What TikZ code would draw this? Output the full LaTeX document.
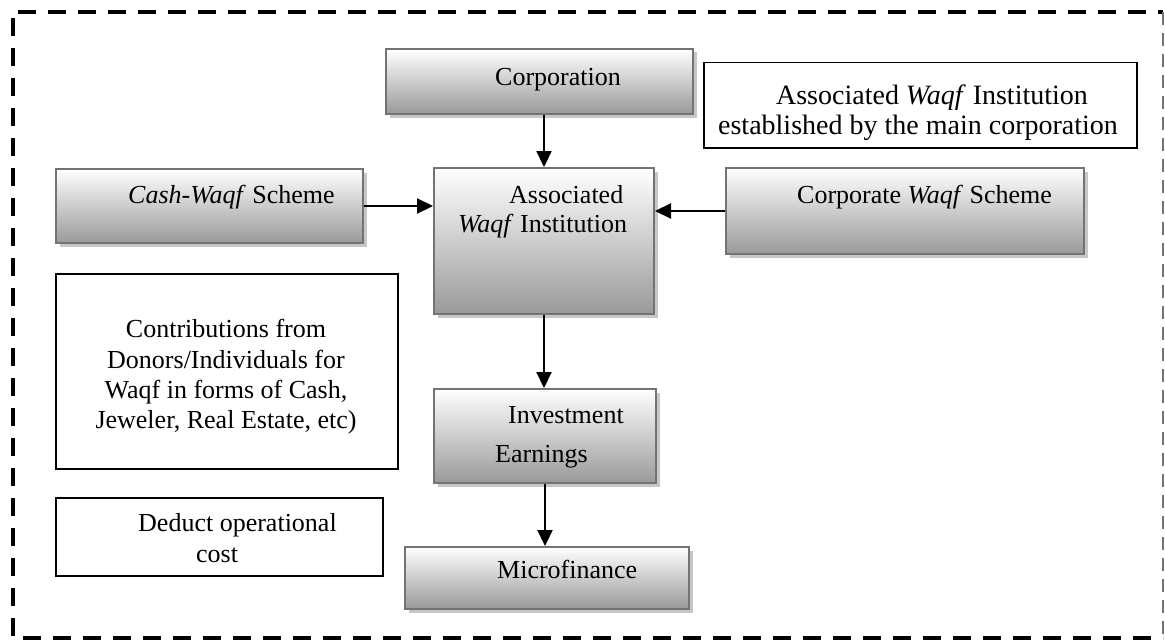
\documentclass[tikz,border=0pt]{standalone}
\usepackage{fontspec}
\setmainfont{Liberation Serif}
\usetikzlibrary{arrows.meta,shadows}
\begin{document}
\begin{tikzpicture}[x=1pt,y=-1pt,
 txt/.style={font=\fontsize{26}{30}\selectfont, inner sep=0pt},
 bigtxt/.style={font=\fontsize{28}{32}\selectfont, inner sep=0pt, anchor=base},
 lt/.style={txt, anchor=base west},
 ct/.style={txt, anchor=base},
 gbox/.style={draw=black!55, line width=2pt, top color=white, bottom color=black!40, inner sep=0pt, anchor=north west,
   drop shadow={shadow xshift=3.5pt, shadow yshift=-3.5pt, fill=black!22, opacity=1}},
 wbox/.style={draw=black, line width=1.5pt, fill=white, inner sep=0pt, anchor=north west},
 conn/.style={line width=2.2pt, -{Triangle[length=16pt,width=15pt]}},
 bdash/.style={line width=4pt, dash pattern=on 18pt off 12pt},
 rdash/.style={line width=1.5pt, black!55, dash pattern=on 13pt off 8pt},
]
\useasboundingbox (0,0) rectangle (1165,642);
% border
\coordinate (tl) at (13,12);
\coordinate (tr) at (1163,12);
\coordinate (bl) at (13,638);
\coordinate (br) at (1163,638);
\draw[bdash] ([xshift=5pt]tl) -- (tr);
\draw[bdash] ([yshift=-6pt]tl) -- (bl) -- (br);
\draw[rdash] (tr) -- (br);

% boxes
\node[gbox, minimum width=307pt, minimum height=65pt] (corp) at (385,48) {};
\node[gbox, minimum width=220pt, minimum height=146pt] (assoc) at (433,167) {};
\node[gbox, minimum width=307pt, minimum height=74pt] (cash) at (55,168) {};
\node[gbox, minimum width=358pt, minimum height=86pt] (corpw) at (725,167) {};
\node[gbox, minimum width=222pt, minimum height=94pt] (inv) at (433,388) {};
\node[gbox, minimum width=284pt, minimum height=62pt] (micro) at (404,546) {};
\node[wbox, minimum width=433pt, minimum height=85pt] (tr box) at (703,62) {};
\node[wbox, minimum width=342pt, minimum height=195pt] (contrib) at (55,273) {};
\node[wbox, minimum width=327pt, minimum height=78pt] (deduct) at (55,497) {};

% texts
\node[lt] (tCorp) at (495,85) {Corporation};
\node[lt] (tAssoc1) at (509,203) {Associated};
\node[lt] (tAssoc2) at (458,232) {\textit{Waqf} Institution};
\node[bigtxt] (tTR1) at (932,104) {Associated \textit{Waqf} Institution};
\node[bigtxt] (tTR2) at (918,134) {established by the main corporation};
\node[lt] (tCash) at (128,203) {\textit{Cash-Waqf} Scheme};
\node[lt] (tCorpw) at (797,203) {Corporate \textit{Waqf} Scheme};
\node[ct] (tC1) at (226,337) {Contributions from};
\node[ct] (tC2) at (226,368) {Donors/Individuals for};
\node[ct] (tC3) at (226,398) {Waqf in forms of Cash,};
\node[ct] (tC4) at (226,428) {Jeweler, Real Estate, etc)};
\node[lt] (tInv1) at (508,423) {Investment};
\node[lt] (tInv2) at (495,462) {Earnings};
\node[lt] (tDed1) at (138,531) {Deduct operational};
\node[lt] (tDed2) at (196,562) {cost};
\node[lt] (tMicro) at (497,578) {Microfinance};

% connectors
\draw[conn] (assoc.north |- corp.south) -- (assoc.north);
\draw[conn] (cash.east) -- (cash.east -| assoc.west);
\draw[conn] (corpw.west) -- (corpw.west -| assoc.east);
\draw[conn] (assoc.south) -- (assoc.south |- inv.north);
\draw[conn] (inv.south) -- (inv.south |- micro.north);
\end{tikzpicture}
\end{document}
